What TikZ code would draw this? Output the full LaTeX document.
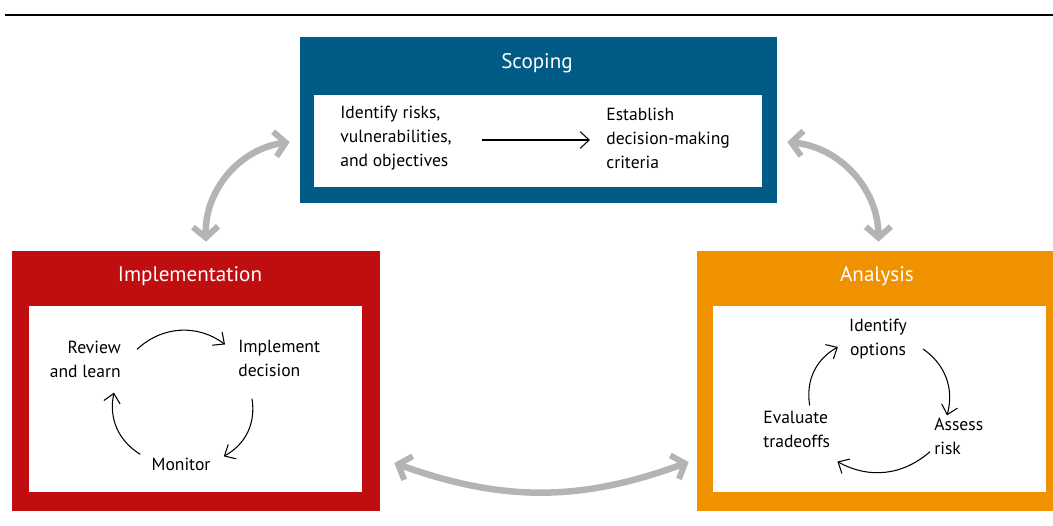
\documentclass[tikz,border=0pt]{standalone}
\usepackage{fontspec}
\setmainfont{PT Sans}
\usetikzlibrary{positioning, calc, arrows.meta}
\definecolor{scopeblue}{RGB}{0,91,135}
\definecolor{implred}{RGB}{192,14,16}
\definecolor{analorange}{RGB}{240,145,0}
\definecolor{cyclegrey}{RGB}{180,180,180}
\tikzset{stagebox/.style={rectangle, inner sep=0pt, draw=none}}
\tikzset{innerbox/.style={rectangle, inner sep=0pt, draw=none, fill=white}}
\tikzset{title/.style={text=white, font=\fontsize{12}{14}\selectfont}}
\tikzset{step label/.style={align=left, inner sep=0pt, font=\fontsize{10}{13.6}\selectfont}}
\tikzset{cycle arrow/.style={->, >={Straight Barb[length=1.8mm, width=3.3mm]}, line width=0.6pt}}
\tikzset{stage arrow/.style={<->, >={Straight Barb[length=2.2mm, width=5mm, line width=1.2mm]}, draw=cyclegrey, line width=1.3mm}}

\begin{document}
\begin{tikzpicture}[x=0.02cm, y=-0.02cm]

      \useasboundingbox (0,0) rectangle (1053,525);
      \draw[line width=0.7pt] (5,15) -- (1053,15);

      % BOXES

      \node[stagebox, fill=scopeblue, minimum width=9.54cm, minimum height=3.32cm] (scope) at (538.5,120) {};
      \node[innerbox, minimum width=8.96cm, minimum height=1.84cm] (scopeIn) at (538,141) {};
      \node[stagebox, fill=implred, minimum width=7.36cm, minimum height=5.2cm] (impl) at (196,381) {};
      \node[innerbox, minimum width=6.66cm, minimum height=3.72cm] (implIn) at (195.5,399) {};
      \node[stagebox, fill=analorange, minimum width=7.3cm, minimum height=5.2cm] (anal) at (879.5,381) {};
      \node[innerbox, minimum width=6.66cm, minimum height=3.72cm] (analIn) at (879.5,399) {};

      % TITLES

      \node[title] (scopeLabel) at (537,63) {Scoping};
      \node[title] (implLabel) at (190,276) {Implementation};
      \node[title] (analLabel) at (877,276) {Analysis};

      % STEPS

      \node[step label, anchor=west] (risks) at (340,138) {Identify risks,\\vulnerabilities,\\and objectives};
      \node[step label, anchor=west] (criteria) at (606,138) {Establish\\decision-making\\criteria};

      \node[step label, align=right, anchor=east] (review) at (121,359) {Review\\and learn};
      \node[step label, anchor=west] (implement) at (238,358) {Implement\\decision};
      \node[step label] (monitor) at (181,464) {Monitor};

      \node[step label, align=center] (options) at (878,339) {Identify\\options};
      \node[step label, anchor=west] (assess) at (934,436) {Assess\\risk};
      \node[step label, anchor=west] (evaluate) at (763,429) {Evaluate\\tradeoffs};

      % ARCS

      \draw[cycle arrow] ($(risks.east)+(30,2)$) -- ($(criteria.west)+(-16,2)$);

      \draw[cycle arrow] ($(review.north east)+(16,9)$) to[bend left=40] ($(implement.north west)+(-13,5)$);
      \draw[cycle arrow] ($(implement.south west)+(14,22)$) to[bend left=35] ($(monitor.north east)+(13,-1)$);
      \draw[cycle arrow] ($(monitor.north west)+(-11,-3)$) to[bend left=35] ($(review.south east)+(-7,15)$);

      \draw[cycle arrow] ($(options.east)+(16,10)$) to[bend left=35] ($(assess.north west)+(13,-2)$);
      \draw[cycle arrow] ($(assess.south west)+(-4,-3)$) to[bend left=35] ($(evaluate.south east)+(7,14)$);
      \draw[cycle arrow] ($(evaluate.north)+(13,-5)$) to[bend left=35] ($(options.west)+(-11,8)$);

      % STAGE LINKS

      \coordinate (scopeL) at ($(scope.west)+(-10,22)$);
      \coordinate (scopeR) at ($(scope.east)+(10,22)$);
      \coordinate (implT) at ($(impl.north)+(10,-9)$);
      \coordinate (implR) at ($(impl.east)+(14,82)$);
      \coordinate (analT) at ($(anal.north)+(-1,-9)$);
      \coordinate (analL) at ($(anal.west)+(-8,81)$);
      \draw[stage arrow] (implT) to[bend left=42] (scopeL);
      \draw[stage arrow] (scopeR) to[bend left=42] (analT);
      \draw[stage arrow] (implR) to[bend right=20] (analL);

    \end{tikzpicture}
\end{document}
